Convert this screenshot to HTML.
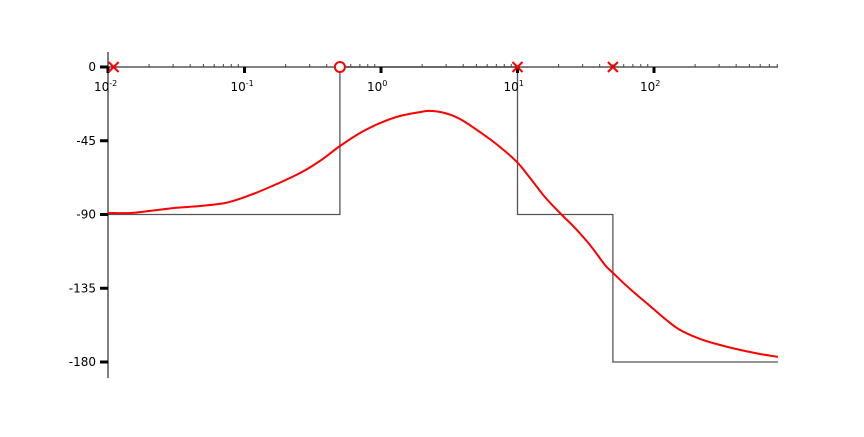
<!DOCTYPE html>
<html><head><meta charset="utf-8"><style>
html,body{margin:0;padding:0;background:#fff;}
svg text{font-family:"DejaVu Sans","Liberation Sans",sans-serif;font-size:12px;fill:#000;}
</style></head><body>
<svg id="chart" width="864" height="432" xmlns="http://www.w3.org/2000/svg"></svg>
<script>
// log10 frequency samples of the phase curve
const curveLogW = [-2,-1.839,-1.692,-1.509,-1.326,-1.143,-0.996,-0.813,-0.593,-0.447,-0.300,-0.154,-0.007,0.139,0.286,0.359,0.469,0.579,0.725,0.872,0.996,1.092,1.201,1.311,1.421,1.531,1.641,1.700,1.824,1.971,2.081,2.190,2.337,2.484,2.630,2.777,2.908];
const curvePhase = [-89.1,-89.1,-87.8,-86.0,-84.8,-83.0,-79.3,-73.2,-64.7,-57.3,-48.2,-40.3,-34.2,-29.9,-27.5,-26.8,-28.1,-31.7,-39.7,-48.8,-58.0,-67.7,-79.3,-89.1,-98.2,-108.6,-120.8,-125.7,-135.4,-145.8,-153.7,-160.4,-165.9,-169.6,-172.6,-175.1,-176.9];
// asymptote breakpoints (frequency) and phase levels
const asymBreaks = [0.01, 0.5, 10, 50, 809];
const asymLevels = [-90, 0, -90, -180];
const poles = [0.011, 10, 50];
const zeros = [0.5];
const yTicks = [0, -45, -90, -135, -180];
const xDecades = [-2, -1, 0, 1, 2];

const NS = "http://www.w3.org/2000/svg";
const svg = document.getElementById('chart');
const X0 = 108, DEC = 136.5, Y0 = 67, PPD = 295/180;
const xl = l => X0 + (l + 2) * DEC;
const xw = w => xl(Math.log10(w));
const y = p => Y0 - p * PPD;
function mk(tag, attrs, parent) { const e = document.createElementNS(NS, tag); for (const k in attrs) e.setAttribute(k, attrs[k]); (parent || svg).appendChild(e); return e; }

// asymptote
let d = '';
for (let i = 0; i < asymLevels.length; i++) {
  const xa = xw(asymBreaks[i]), xb = xw(asymBreaks[i + 1]), yy = y(asymLevels[i]);
  d += (i === 0 ? 'M' : 'L') + xa + ',' + yy + ' L' + xb + ',' + yy + ' ';
}
const asym = mk('path', {d: d, fill: 'none', stroke: '#555', 'stroke-width': 1.3});



// axes
const ya = mk('line', {x1: 108, y1: 52, x2: 108, y2: 378, stroke: '#000', 'stroke-width': 1});


const xa = mk('line', {x1: 108, y1: 67, x2: 778, y2: 67, stroke: '#000', 'stroke-width': 1});



yTicks.forEach(t => {
  const yy = y(t);
  const tk = mk('line', {x1: 100, y1: yy, x2: 108, y2: yy, stroke: '#000', 'stroke-width': 3});
  
  
  const tx = mk('text', {x: 96, y: yy + 4, 'text-anchor': 'end'});
  tx.textContent = t;
  
  
});

xDecades.forEach(e => {
  const xx = xl(e);
  const tk = mk('line', {x1: xx, y1: 67, x2: xx, y2: 73, stroke: '#000', 'stroke-width': 3});
  
  
  const tx = mk('text', {x: xx - 14, y: 91});
  
  
  tx.textContent = '10';
  const sp = mk('tspan', {dy: -5, 'font-size': 8}, tx);
  sp.textContent = e < 0 ? '-' + (-e) : String(e);
});
for (let e = -2; e <= 2; e++) for (let m = 2; m <= 9; m++) {
  const l = e + Math.log10(m);
  if (xl(l) > 778) continue;
  const tk = mk('line', {x1: xl(l), y1: 64, x2: xl(l), y2: 67, stroke: '#444', 'stroke-width': 1});
  
  
}

// phase curve (Catmull-Rom smoothing)
const pts = curveLogW.map((l, i) => [xl(l), y(curvePhase[i])]);
let pd = 'M' + pts[0][0].toFixed(1) + ',' + pts[0][1].toFixed(1);
for (let i = 0; i < pts.length - 1; i++) {
  const p0 = pts[Math.max(0, i - 1)], p1 = pts[i], p2 = pts[i + 1], p3 = pts[Math.min(pts.length - 1, i + 2)];
  const c1 = [p1[0] + (p2[0] - p0[0]) / 6, p1[1] + (p2[1] - p0[1]) / 6];
  const c2 = [p2[0] - (p3[0] - p1[0]) / 6, p2[1] - (p3[1] - p1[1]) / 6];
  pd += ` C${c1[0].toFixed(1)},${c1[1].toFixed(1)} ${c2[0].toFixed(1)},${c2[1].toFixed(1)} ${p2[0].toFixed(1)},${p2[1].toFixed(1)}`;
}
const curve = mk('path', {d: pd, fill: 'none', stroke: '#f00', 'stroke-width': 2, 'stroke-linejoin': 'round'});



// poles / zeros
poles.forEach(p => {
  const xx = xw(p), s = 5;
  const g = mk('path', {d: `M${xx-s},${67-s} L${xx+s},${67+s} M${xx-s},${67+s} L${xx+s},${67-s}`, stroke: '#f00', 'stroke-width': 2});
  
  
});
zeros.forEach(z => {
  const c = mk('circle', {cx: xw(z), cy: 67, r: 5, fill: '#fff', stroke: '#f00', 'stroke-width': 2});
  
  
});
</script>
</body></html>
